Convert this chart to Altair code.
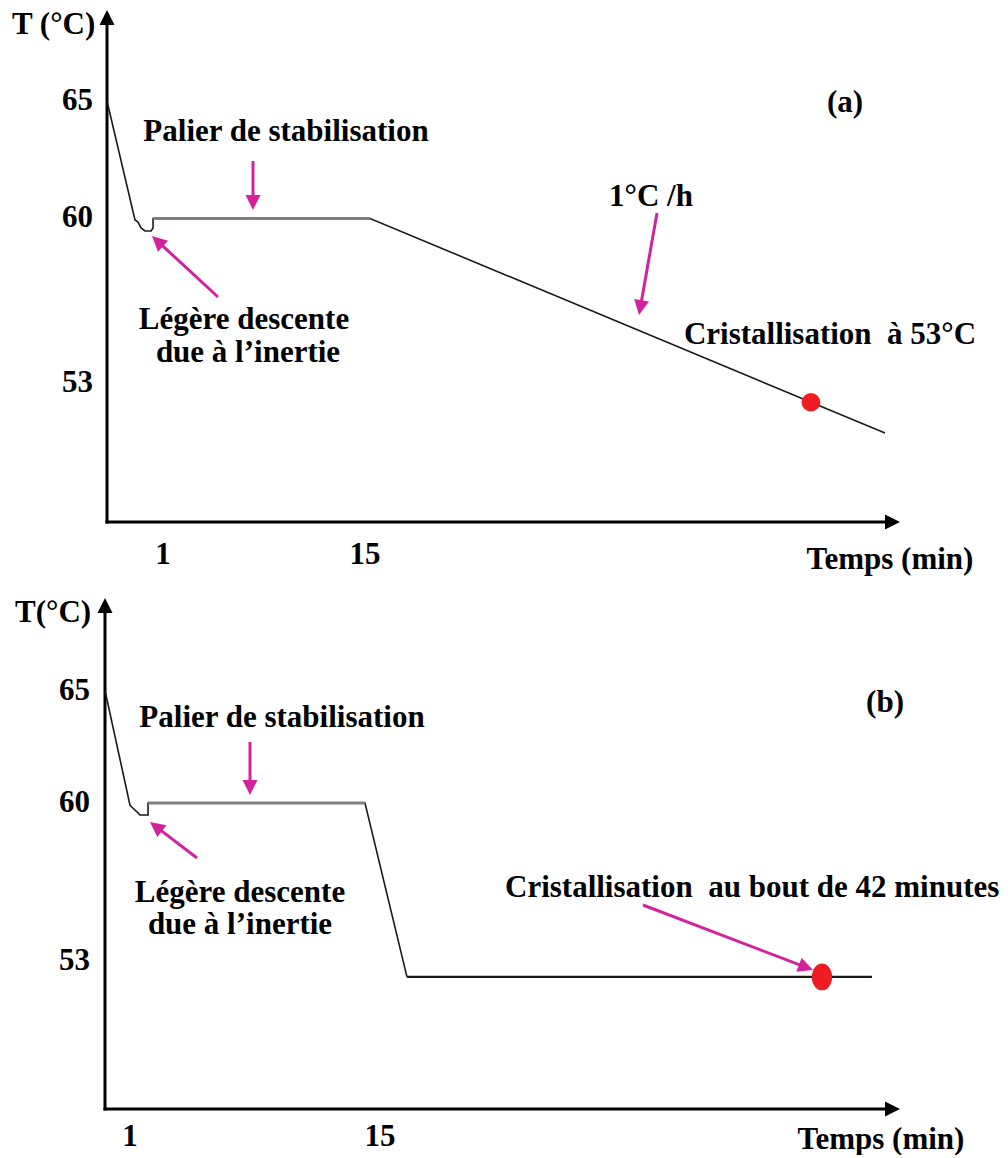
import math
import altair as alt
import pandas as pd

# ---------------- Panel (a) values (time in min, temperature in °C) ----------------
a_time = [-2.88, -0.94, -0.73, -0.52, -0.25, 0.17, 0.31, 0.31, 15.35, 51.04]
a_temp = [65.0, 59.94, 59.85, 59.60, 59.47, 59.47, 59.60, 60.0, 60.0, 50.87]
a_plateau_time = [0.31, 15.35]
a_plateau_temp = [60.0, 60.0]
a_cryst_time = [45.91]
a_cryst_temp = [52.18]
a_xticks = [1, 15]
a_yticks = [65, 60, 53]

# ---------------- Panel (b) values ----------------
b_time = [-0.40, 1.00, 1.28, 1.56, 2.01, 2.01, 14.16, 16.51, 42.55]
b_temp = [65.0, 59.90, 59.69, 59.47, 59.47, 60.0, 60.0, 52.27, 52.27]
b_plateau_time = [2.01, 14.16]
b_plateau_temp = [60.0, 60.0]
b_cryst_time = [39.75]
b_cryst_temp = [52.27]
b_xticks = [1, 15]
b_yticks = [65, 60, 53]

FONT = "Liberation Serif"
FS = 31
MAGENTA = "#d2239d"
RED = "#ee1d24"
HEAD_UP = "M0,0L-0.75,1.5L0.75,1.5Z"
ELLIPSE = "M-0.72,0A0.72,0.95,0,1,0,0.72,0A0.72,0.95,0,1,0,-0.72,0Z"
W = 992
DUMMY = pd.DataFrame({"a": [0]})


def text(s, x, y, align="center", size=FS):
    return alt.Chart(DUMMY).mark_text(
        text=s, align=align, baseline="middle", font=FONT, fontSize=size,
        fontWeight="bold", color="black",
    ).encode(x=alt.value(x), y=alt.value(y))


def arrow(x1, y1, x2, y2, color=MAGENTA):
    dx, dy = x2 - x1, y2 - y1
    L = math.hypot(dx, dy)
    ux, uy = dx / L, dy / L
    ex, ey = x2 - ux * 10, y2 - uy * 10
    ang = math.degrees(math.atan2(dx, -dy)) % 360
    shaft = alt.Chart(DUMMY).mark_rule(color=color, strokeWidth=3).encode(
        x=alt.value(x1), y=alt.value(y1), x2=alt.value(ex), y2=alt.value(ey))
    head = alt.Chart(DUMMY).mark_point(
        shape=HEAD_UP, filled=True, size=400, color=color, opacity=1,
        strokeWidth=0, angle=ang,
    ).encode(x=alt.value(x2), y=alt.value(y2))
    return [shaft, head]


def panel(H, xdom, ydom, time, temp, pl_t, pl_T, cr_t, cr_T, xticks, yticks,
          origin, ytip, xtip, xtick_y, ytick_x, dot_shape, dot_size, low_flat=None):
    xs = alt.Scale(domain=xdom, nice=False, zero=False)
    ys = alt.Scale(domain=ydom, nice=False, zero=False)
    X = lambda f: alt.X(f, scale=xs, axis=None)
    Y = lambda f: alt.Y(f, scale=ys, axis=None)
    pxT = H / (ydom[1] - ydom[0])
    pxt = W / (xdom[1] - xdom[0])
    t0, T0 = origin
    layers = []
    # axes
    ydf = pd.DataFrame({"x": [t0], "y": [T0], "y2": [ytip - 8 / pxT]})
    layers.append(alt.Chart(ydf).mark_rule(color="black", strokeWidth=3, strokeCap="square")
                  .encode(x=X("x:Q"), y=Y("y:Q"), y2="y2:Q"))
    xdf = pd.DataFrame({"x": [t0], "x2": [xtip - 8 / pxt], "y": [T0]})
    layers.append(alt.Chart(xdf).mark_rule(color="black", strokeWidth=3, strokeCap="square")
                  .encode(x=X("x:Q"), x2="x2:Q", y=Y("y:Q")))
    hdf = pd.DataFrame({"x": [t0, xtip], "y": [ytip, T0], "ang": [0, 90]})
    layers.append(alt.Chart(hdf).mark_point(shape=HEAD_UP, filled=True, size=400, color="black",
                                            opacity=1, strokeWidth=0)
                  .encode(x=X("x:Q"), y=Y("y:Q"), angle=alt.Angle("ang:Q", scale=None)))
    # curve
    cdf = pd.DataFrame({"t": time, "T": temp, "i": list(range(len(time)))})
    layers.append(alt.Chart(cdf).mark_line(color="#1a1a1a", strokeWidth=1.6)
                  .encode(x=X("t:Q"), y=Y("T:Q"), order="i:Q"))
    if low_flat is not None:
        ldf = pd.DataFrame({"t": low_flat[0], "T": low_flat[1]})
        layers.append(alt.Chart(ldf).mark_line(color="#1a1a1a", strokeWidth=2.2)
                      .encode(x=X("t:Q"), y=Y("T:Q")))
    pdf = pd.DataFrame({"t": pl_t, "T": pl_T})
    layers.append(alt.Chart(pdf).mark_line(color="#808080", strokeWidth=3)
                  .encode(x=X("t:Q"), y=Y("T:Q")))
    # crystallisation point
    rdf = pd.DataFrame({"t": cr_t, "T": cr_T})
    layers.append(alt.Chart(rdf).mark_point(shape=dot_shape, filled=True, size=dot_size,
                                            color=RED, opacity=1, strokeWidth=0)
                  .encode(x=X("t:Q"), y=Y("T:Q")))
    # tick labels
    xtdf = pd.DataFrame({"t": xticks, "lab": [str(v) for v in xticks]})
    layers.append(alt.Chart(xtdf).mark_text(font=FONT, fontSize=FS, fontWeight="bold",
                                            baseline="middle", align="center", color="black")
                  .encode(x=X("t:Q"), y=alt.value(xtick_y), text="lab:N"))
    ytdf = pd.DataFrame({"T": yticks, "lab": [str(v) for v in yticks]})
    layers.append(alt.Chart(ytdf).mark_text(font=FONT, fontSize=FS, fontWeight="bold",
                                            baseline="middle", align="right", color="black")
                  .encode(y=Y("T:Q"), x=alt.value(ytick_x), text="lab:N"))
    return layers


# ---------------- Panel (a) ----------------
HA = 580
layers_a = panel(
    HA, [-9.742, 59.01], [44.276, 68.957], a_time, a_temp, a_plateau_time, a_plateau_temp,
    a_cryst_time, a_cryst_temp, a_xticks, a_yticks,
    origin=(-2.88, 47.08), ytip=68.87, xtip=52.08, xtick_y=547, ytick_x=85,
    dot_shape="circle", dot_size=350)
layers_a += [
    text("T (°C)", 4, 17, align="left"),
    text("(a)", 837, 95),
    text("Palier de stabilisation", 278, 124),
    text("1°C /h", 643, 189),
    text("Légère descente", 236, 312),
    text("due à l’inertie", 240, 345),
    text("Cristallisation\u00a0 à 53°C", 822, 327),
    text("Temps (min)", 882, 552),
]
layers_a += arrow(245, 153, 245, 202)
layers_a += arrow(210, 289, 144, 228)
layers_a += arrow(649, 205, 631, 307)
chart_a = alt.layer(*layers_a).properties(width=W, height=HA)

# ---------------- Panel (b) ----------------
HB = 562
layers_b = panel(
    HB, [-5.832, 49.72], [44.578, 69.556], b_time[:-1], b_temp[:-1], b_plateau_time, b_plateau_temp,
    b_cryst_time, b_cryst_temp, b_xticks, b_yticks,
    origin=(-0.40, 46.40), ytip=69.11, xtip=44.12, xtick_y=549, ytick_x=82,
    dot_shape=ELLIPSE, dot_size=800,
    low_flat=(b_time[-2:], b_temp[-2:]))
layers_b += [
    text("T(°C)", 7, 25, align="left"),
    text("(b)", 877, 115),
    text("Palier de stabilisation", 274, 130),
    text("Légère descente", 232, 305),
    text("due à l’inertie", 232, 337),
    text("Cristallisation\u00a0 au bout de 42 minutes", 497, 300, align="left"),
    text("Temps (min)", 873, 552),
]
layers_b += arrow(242, 154, 242, 207)
layers_b += arrow(189, 270, 142, 234)
layers_b += arrow(635, 317, 805, 382)
chart_b = alt.layer(*layers_b).properties(width=W, height=HB)

chart = alt.vconcat(chart_a, chart_b, spacing=0).properties(
    padding=0, background="white"
).configure_view(stroke=None)

chart.save("out.html", embed_options={"renderer": "svg", "actions": False})
